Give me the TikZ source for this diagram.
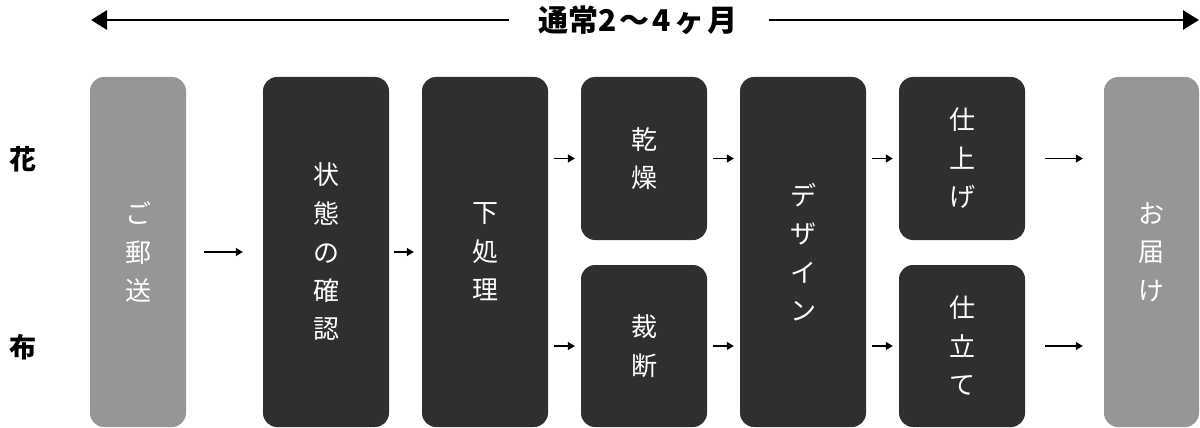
\documentclass[tikz,border=0pt]{standalone}
\usepackage{fontspec}
\newfontfamily\cjk{Noto Sans CJK JP}
\usetikzlibrary{arrows.meta}
\definecolor{darkbox}{RGB}{47,47,47}
\definecolor{graybox}{RGB}{150,150,150}
\tikzset{
  x=1pt,y=-1pt,
  stepbox/.style={rectangle,rounded corners=14pt,fill=darkbox,text=white,inner sep=0pt,
    align=center,font=\cjk\fontsize{26}{38.5}\selectfont},
  graystep/.style={stepbox,fill=graybox},
  tall/.style={minimum width=126pt,minimum height=350pt},
  short/.style={minimum width=126pt,minimum height=163pt},
  flow/.style={-{Triangle[length=7pt,width=8pt]},line width=1.3pt},
  span/.style={-{Triangle[length=16pt,width=19pt]},line width=2.7pt},
  rowlabel/.style={font=\cjk\bfseries\fontsize{27}{27}\selectfont,inner sep=0pt},
}
\begin{document}
\begin{tikzpicture}
\useasboundingbox (0,0) rectangle (1200,428);
% title
\node[font=\cjk\bfseries\fontsize{30}{30}\selectfont,inner sep=0pt] (title) at (638,20) {通常2\hspace{3pt}〜\hspace{3pt}4\hspace{4pt}ヶ\hspace{3pt}月};
\coordinate (leftend) at (91,20);
\coordinate (rightend) at (1199,20);
\draw[span,shorten <=29pt] (title.west) -- (leftend);
\draw[span,shorten <=31pt] (title.east) -- (rightend);
% row labels
\node[rowlabel] (hana) at (23,159) {花};
\node[rowlabel] (nuno) at (23,347) {布};
% boxes
\node[graystep,minimum width=96pt,minimum height=350pt] (post) at (138,252) {ご\\郵\\送};
\node[stepbox,tall] (check) at (326,252) {状\\態\\の\\確\\認};
\node[stepbox,tall] (pre) at (485,252) {下\\処\\理};
\node[stepbox,short] (dry) at (644,158.5) {乾\\燥};
\node[stepbox,short,minimum height=162pt] (cut) at (644,346) {裁\\断};
\node[stepbox,tall] (design) at (803,252) {デ\\ザ\\イ\\ン};
\node[stepbox,short] (finish) at (962,158.5) {仕\\上\\げ};
\node[stepbox,short,minimum height=162pt] (sew) at (962,346) {仕\\立\\て};
\node[graystep,minimum width=95pt,minimum height=350pt] (deliver) at (1151.5,252) {お\\届\\け};
% connectors
\draw[flow,shorten <=18pt,shorten >=20pt] (post.east) -- (check.west);
\draw[flow,shorten <=5pt,shorten >=8pt] (check.east) -- (pre.west);
\draw[flow,shorten <=6pt,shorten >=6pt] (pre.east |- dry.west) -- (dry.west);
\draw[flow,shorten <=6pt,shorten >=6pt] (pre.east |- cut.west) -- (cut.west);
\draw[flow,shorten <=6pt,shorten >=6pt] (dry.east) -- (design.west |- dry.east);
\draw[flow,shorten <=6pt,shorten >=6pt] (cut.east) -- (design.west |- cut.east);
\draw[flow,shorten <=6pt,shorten >=6pt] (design.east |- finish.west) -- (finish.west);
\draw[flow,shorten <=6pt,shorten >=6pt] (design.east |- sew.west) -- (sew.west);
\draw[flow,shorten <=20pt,shorten >=21pt] (finish.east) -- (deliver.west |- finish.east);
\draw[flow,shorten <=20pt,shorten >=21pt] (sew.east) -- (deliver.west |- sew.east);
\end{tikzpicture}
\end{document}
